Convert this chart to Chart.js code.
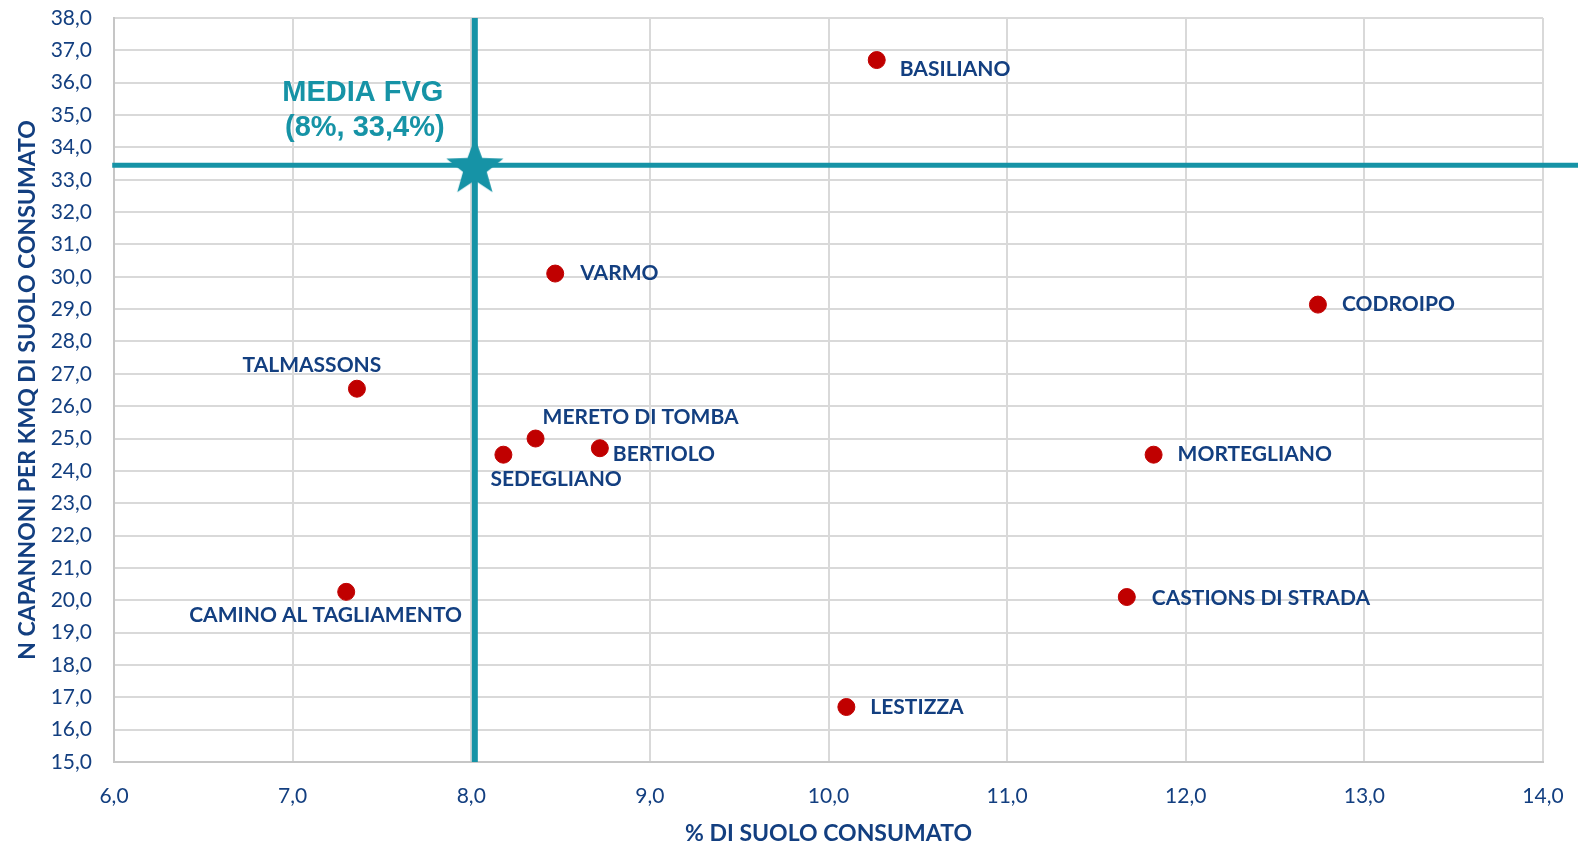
<!DOCTYPE html>
<html>
<head>
<meta charset="utf-8">
<script src="https://cdn.jsdelivr.net/npm/chart.js@4"></script>
<style>
  html, body { margin: 0; padding: 0; background: #ffffff; }
  #wrap { width: 1578px; height: 842px; position: relative; }
</style>
</head>
<body>
<div id="wrap"><canvas id="chart"></canvas></div>
<script>
// Data
const comuni = ['BASILIANO', 'VARMO', 'CODROIPO', 'TALMASSONS', 'MERETO DI TOMBA', 'SEDEGLIANO',
    'BERTIOLO', 'MORTEGLIANO', 'CAMINO AL TAGLIAMENTO', 'CASTIONS DI STRADA', 'LESTIZZA'];
const suoloConsumato = [10.27, 8.47, 12.74, 7.36, 8.36, 8.18, 8.72, 11.82, 7.30, 11.67, 10.10];
const capannoniKmq = [36.7, 30.1, 29.14, 26.54, 25.0, 24.5, 24.7, 24.5, 20.26, 20.1, 16.7];
const mediaFvgX = 8.02;
const mediaFvgY = 33.45;
const mediaFvgLabel = ['MEDIA FVG', '(8%, 33,4%)'];
const xTitle = '% DI SUOLO CONSUMATO';
const yTitle = 'N CAPANNONI PER KMQ DI SUOLO CONSUMATO';

// Label placement relative to each point (dx, dy, align)
const labelOffsets = [
    [23, 9, 'left'], [25, 0, 'left'], [24, 0, 'left'], [-45, -23, 'center'],
    [7, -21, 'left'], [-13, 25, 'left'], [13, 6, 'left'], [24, 0, 'left'],
    [-157, 23, 'left'], [25, 1, 'left'], [24, 0, 'left']
];

const blue = '#133f80';
const teal = '#1693a6';
const red = '#c00000';

function fmt(v) {
    return Number(v).toFixed(1).replace('.', ',');
}

// filled five pointed star for the FVG average marker
function makeStar(R, r) {
    const size = Math.ceil(R * 2 + 4);
    const c = document.createElement('canvas');
    c.width = size; c.height = size;
    const g = c.getContext('2d');
    const cx = size / 2, cy = size / 2 + R * 0.095;
    g.beginPath();
    for (let i = 0; i < 10; i++) {
        const rad = i % 2 === 0 ? R : r;
        const a = -Math.PI / 2 + i * Math.PI / 5;
        const px = cx + rad * Math.cos(a), py = cy + rad * Math.sin(a);
        if (i === 0) g.moveTo(px, py); else g.lineTo(px, py);
    }
    g.closePath();
    g.fillStyle = teal;
    g.fill();
    return c;
}

const pointLabels = {
    id: 'pointLabels',
    afterDatasetsDraw(chart) {
        const ctx = chart.ctx;
        const meta = chart.getDatasetMeta(0);
        ctx.save();
        ctx.font = 'bold 21px Lato';
        ctx.fillStyle = blue;
        ctx.textBaseline = 'middle';
        meta.data.forEach((el, i) => {
            const [dx, dy, align] = labelOffsets[i];
            ctx.textAlign = align;
            ctx.fillText(comuni[i], el.x + dx, el.y + dy);
        });
        // MEDIA FVG label
        const sx = chart.scales.x.getPixelForValue(mediaFvgX);
        const sy = chart.scales.y.getPixelForValue(mediaFvgY);
        ctx.font = 'bold 29px "Liberation Sans", Arial';
        ctx.fillStyle = teal;
        ctx.textAlign = 'center';
        ctx.fillText(mediaFvgLabel[0], sx - 112, sy - 72);
        ctx.fillText(mediaFvgLabel[1], sx - 110, sy - 37);
        ctx.restore();
    }
};

const ctx = document.getElementById('chart').getContext('2d');
new Chart(ctx, {
    type: 'scatter',
    data: {
        datasets: [
            {
                label: 'Comuni',
                data: suoloConsumato.map((x, i) => ({ x: x, y: capannoniKmq[i] })),
                backgroundColor: red,
                borderColor: red,
                pointRadius: 8.5,
                order: 1
            },
            {
                label: 'media x',
                type: 'line',
                data: [{ x: mediaFvgX, y: 15 }, { x: mediaFvgX, y: 38 }],
                borderColor: teal,
                borderWidth: 6,
                pointRadius: 0,
                order: 3
            },
            {
                label: 'media y',
                type: 'line',
                data: [{ x: 5.99, y: mediaFvgY }, { x: 14.2, y: mediaFvgY }],
                borderColor: teal,
                borderWidth: 5,
                pointRadius: 0,
                clip: false,
                order: 3
            },
            {
                label: 'MEDIA FVG',
                data: [{ x: mediaFvgX, y: mediaFvgY }],
                pointStyle: makeStar(30, 12.5),
                order: 0
            }
        ]
    },
    options: {
        responsive: true,
        maintainAspectRatio: false,
        animation: false,
        layout: { autoPadding: false, padding: { top: 18, right: 35, bottom: 0, left: 0 } },
        plugins: {
            legend: { display: false },
            tooltip: { enabled: false }
        },
        scales: {
            x: {
                type: 'linear',
                min: 6,
                max: 14,
                afterFit: (s) => { s.height = 80; s.paddingLeft = 0; s.paddingRight = 0; },
                grid: { color: '#d9d9d9', lineWidth: 2, drawTicks: false },
                border: { color: '#c6c6c6', width: 2 },
                ticks: {
                    stepSize: 1,
                    autoSkip: false,
                    padding: 22,
                    color: blue,
                    font: { family: 'Lato', size: 21 },
                    callback: fmt
                },
                title: {
                    display: true,
                    text: xTitle,
                    color: blue,
                    font: { family: 'Lato', size: 23, weight: 'bold', lineHeight: 1 },
                    padding: { top: 0, bottom: -3 }
                }
            },
            y: {
                type: 'linear',
                min: 15,
                max: 38,
                afterFit: (s) => { s.width = 114; s.paddingTop = 0; s.paddingBottom = 0; },
                grid: { color: '#d9d9d9', lineWidth: 2, drawTicks: false },
                border: { color: '#c6c6c6', width: 2 },
                ticks: {
                    stepSize: 1,
                    autoSkip: false,
                    padding: 22,
                    color: blue,
                    font: { family: 'Lato', size: 21 },
                    callback: fmt
                },
                title: {
                    display: true,
                    text: yTitle,
                    color: blue,
                    font: { family: 'Lato', size: 23, weight: 'bold', lineHeight: 1 },
                    padding: { top: 16, bottom: 0 }
                }
            }
        }
    },
    plugins: [pointLabels]
});
</script>
</body>
</html>
